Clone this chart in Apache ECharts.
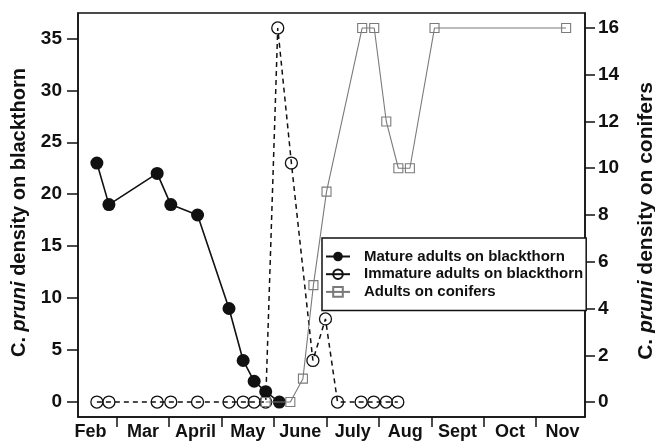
<!DOCTYPE html>
<html>
<head>
<meta charset="utf-8">
<script src="https://cdn.jsdelivr.net/npm/echarts@6.0.0/dist/echarts.min.js"></script>
<style>
  html, body { margin: 0; padding: 0; background: #fff; }
  #chart { width: 655px; height: 441px; }
</style>
</head>
<body>
<div id="chart"></div>
<script>
// x is in months counted from 1 Feb (0 = Feb 1, 1 = Mar 1, ...)
const months = ['Feb', 'Mar', 'April', 'May', 'June', 'July', 'Aug', 'Sept', 'Oct', 'Nov'];
const monthStarts = [1, 2, 3, 4, 5, 6, 7, 8, 9];
const leftTicks = [0, 5, 10, 15, 20, 25, 30, 35];
const rightTicks = [0, 2, 4, 6, 8, 10, 12, 14, 16];

// mature adults on blackthorn (left axis)
const matureX = [0.62, 0.85, 1.77, 2.03, 2.54, 3.14, 3.41, 3.62, 3.84, 4.10];
const matureY = [23, 19, 22, 19, 18, 9, 4, 2, 1, 0];

// immature adults on blackthorn (left axis)
const immatureX = [0.62, 0.85, 1.77, 2.03, 2.54, 3.14, 3.41, 3.62, 3.84, 4.07, 4.33, 4.74, 4.98, 5.21, 5.66, 5.90, 6.14, 6.36];
const immatureY = [0, 0, 0, 0, 0, 0, 0, 0, 0, 36, 23, 4, 8, 0, 0, 0, 0, 0];

// adults on conifers (right axis)
const coniferX = [3.84, 4.31, 4.55, 4.75, 5.00, 5.68, 5.91, 6.14, 6.37, 6.59, 7.06, 9.57];
const coniferY = [0, 0, 1, 5, 9, 16, 16, 12, 10, 10, 16, 16];

const pairs = (xs, ys) => xs.map((x, i) => [x, ys[i]]);
const ink = '#111';
const font = 'Liberation Sans, Arial, Helvetica, sans-serif';

const chart = echarts.init(document.getElementById('chart'));

const titleStyle = (size, pad) => ({
  fontSize: size, fontWeight: 'bold', color: ink, fontFamily: font, padding: pad,
  rich: { i: { fontSize: size, fontWeight: 'bold', fontStyle: 'italic', color: ink, fontFamily: font } }
});

const option = {
  backgroundColor: '#fff',
  animation: false,
  textStyle: { fontFamily: font },
  grid: {
    left: 78, right: 70, top: 13, bottom: 24,
    outerBoundsMode: 'none',
    show: true, borderColor: ink, borderWidth: 1.5
  },
  legend: {
    orient: 'vertical',
    left: 322, top: 238,
    padding: [11, 3, 11, 3],
    itemGap: 2.7,
    itemWidth: 24,
    itemHeight: 12,
    borderColor: ink,
    borderWidth: 1.5,
    backgroundColor: '#fff',
    lineStyle: { type: 'solid' },
    textStyle: {
      fontFamily: font, fontSize: 15, fontWeight: 'bold', color: ink,
      lineHeight: 14, padding: [0, 0, 0, 9]
    },
    data: ['Mature adults on blackthorn', 'Immature adults on blackthorn', 'Adults on conifers']
  },
  xAxis: {
    type: 'value',
    min: 0.26, max: 9.93,
    splitLine: { show: false },
    axisLine: { onZero: false, lineStyle: { color: ink, width: 1.5 } },
    axisTick: { customValues: monthStarts, length: 10, lineStyle: { color: ink, width: 1.5 } },
    axisLabel: {
      customValues: months.map((m, i) => i + 0.5),
      formatter: v => months[Math.floor(v)],
      margin: 6, fontSize: 18, fontWeight: 'bold', color: ink, fontFamily: font
    }
  },
  yAxis: [
    {
      type: 'value',
      position: 'left',
      min: -1.44, max: 37.44,
      name: 'C. {i|pruni} density on blackthorn',
      nameLocation: 'middle',
      nameGap: 43,
      nameRotate: 90,
      nameTextStyle: titleStyle(20, [0, 0, 0, 5]),
      splitLine: { show: false },
      axisLine: { show: true, onZero: false, lineStyle: { color: ink, width: 1.5 } },
      axisTick: { show: true, customValues: leftTicks, length: 11, lineStyle: { color: ink, width: 1.5 } },
      axisLabel: { customValues: leftTicks, margin: 16, fontSize: 19, fontWeight: 'bold', color: ink, fontFamily: font }
    },
    {
      type: 'value',
      position: 'right',
      min: -0.64, max: 16.64,
      name: 'C. {i|pruni} density on conifers',
      nameLocation: 'middle',
      nameGap: 51,
      nameRotate: 90,
      nameTextStyle: titleStyle(21, [0, 12, 0, 0]),
      splitLine: { show: false },
      axisLine: { show: true, onZero: false, lineStyle: { color: ink, width: 1.5 } },
      axisTick: { show: true, customValues: rightTicks, length: 10, lineStyle: { color: ink, width: 1.5 } },
      axisLabel: { customValues: rightTicks, margin: 13, fontSize: 19, fontWeight: 'bold', color: ink, fontFamily: font }
    }
  ],
  series: [
    {
      name: 'Mature adults on blackthorn',
      type: 'line',
      yAxisIndex: 0,
      data: pairs(matureX, matureY),
      symbol: 'circle',
      symbolSize: 13,
      itemStyle: { color: ink },
      lineStyle: { color: ink, width: 1.6 },
      z: 2
    },
    {
      name: 'Immature adults on blackthorn',
      type: 'line',
      yAxisIndex: 0,
      data: pairs(immatureX, immatureY),
      symbol: 'circle',
      symbolSize: 12,
      itemStyle: { color: 'rgba(255,255,255,0)', borderColor: ink, borderWidth: 1.3 },
      lineStyle: { color: ink, width: 1.5, type: [5, 4] },
      z: 3
    },
    {
      name: 'Adults on conifers',
      type: 'line',
      yAxisIndex: 1,
      data: pairs(coniferX, coniferY),
      symbol: 'rect',
      symbolSize: 9,
      itemStyle: { color: 'rgba(255,255,255,0)', borderColor: '#7a7a7a', borderWidth: 1.1 },
      lineStyle: { color: '#7a7a7a', width: 1.1 },
      z: 4
    }
  ]
};

chart.setOption(option);
</script>
</body>
</html>
